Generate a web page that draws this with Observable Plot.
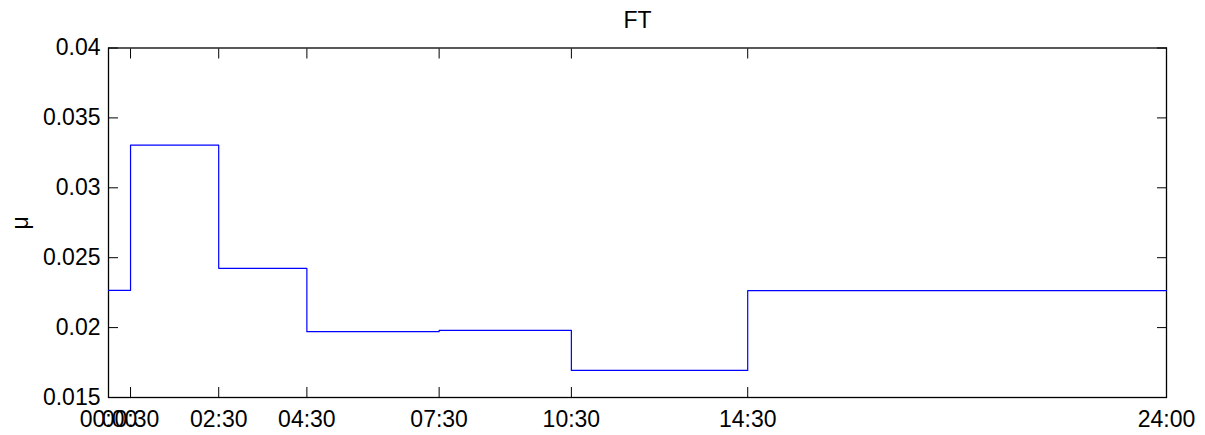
<!DOCTYPE html>
<html>
<head>
<meta charset="utf-8">
<script src="https://cdn.jsdelivr.net/npm/d3@7"></script>
<script src="https://cdn.jsdelivr.net/npm/@observablehq/plot@0.6"></script>
<style>
  html, body { margin: 0; padding: 0; background: #ffffff; }
  #chart { width: 1205px; height: 435px; }
</style>
</head>
<body>
<div id="chart"></div>
<script>
// Breakpoints of the daily profile, in hours since midnight
const hours = [0, 0.5, 2.5, 4.5, 7.5, 10.5, 14.5, 24];
// μ held constant from each breakpoint until the next (last value repeats at 24:00)
const mu = [0.02266, 0.03305, 0.02424, 0.01971, 0.01980, 0.01694, 0.02265, 0.02265];
// Axis ticks and their labels
const xTicks = [0, 0.5, 2.5, 4.5, 7.5, 10.5, 14.5, 24];
const xTickLabels = ["00:00", "00:30", "02:30", "04:30", "07:30", "10:30", "14:30", "24:00"];
const yTicks = [0.015, 0.02, 0.025, 0.03, 0.035, 0.04];
const yTickLabels = ["0.015", "0.02", "0.025", "0.03", "0.035", "0.04"];
const title = "FT";
const yLabel = "μ";

const profile = hours.map((h, i) => ({hour: h, mu: mu[i]}));
const xLabelOf = (d) => xTickLabels[xTicks.indexOf(d)];
const yLabelOf = (d) => yTickLabels[yTicks.indexOf(d)];

const tickLen = 10;

const chart = Plot.plot({
  width: 1205,
  height: 435,
  marginLeft: 108,
  marginRight: 39,
  marginTop: 47.5,
  marginBottom: 38,
  style: {
    fontFamily: "'Liberation Sans', Arial, Helvetica, sans-serif",
    fontSize: "23px",
    color: "#000000",
    background: "#ffffff"
  },
  x: {domain: [0, 24], label: null},
  y: {domain: [0.015, 0.04], label: null},
  marks: [
    Plot.frame({stroke: "#000000", strokeWidth: 1.3}),
    // inward-pointing ticks on all four sides
    Plot.axisX({anchor: "bottom", ticks: xTicks, tickSize: tickLen, dy: -tickLen, text: null, label: null}),
    Plot.axisX({anchor: "top", ticks: xTicks, tickSize: tickLen, dy: tickLen, text: null, label: null}),
    Plot.axisY({anchor: "left", ticks: yTicks, tickSize: tickLen, dx: tickLen, text: null, label: null}),
    Plot.axisY({anchor: "right", ticks: yTicks, tickSize: tickLen, dx: -tickLen, text: null, label: null}),
    // tick labels
    Plot.axisX({anchor: "bottom", ticks: xTicks, tickSize: 0, tickPadding: 13, tickFormat: xLabelOf, label: null}),
    Plot.axisY({anchor: "left", ticks: yTicks, tickSize: 0, tickPadding: 8, tickFormat: yLabelOf, label: null}),
    // step profile
    Plot.line(profile, {x: "hour", y: "mu", curve: "step-after", stroke: "#0000ff", strokeWidth: 1.2}),
    // title and y-axis label
    Plot.text([title], {frameAnchor: "top", lineAnchor: "middle", textAnchor: "middle", dy: -27, fill: "#000000"}),
    Plot.text([yLabel], {frameAnchor: "left", lineAnchor: "middle", textAnchor: "middle", dx: -88, rotate: -90, fill: "#000000"})
  ]
});

document.getElementById("chart").appendChild(chart);
</script>
</body>
</html>
